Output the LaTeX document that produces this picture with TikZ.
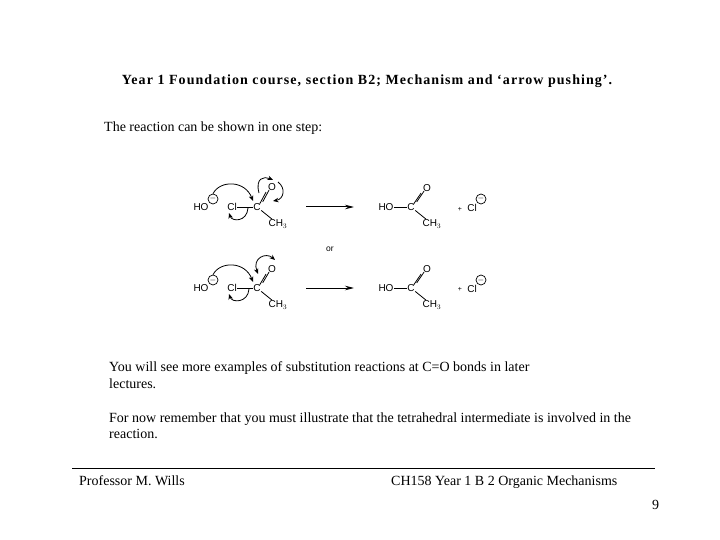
\documentclass[tikz,border=0pt]{standalone}
\usepackage{fontspec}
\setmainfont{Liberation Serif}
\newfontfamily\chemfont{Liberation Sans}
\newfontfamily\titlefont[LetterSpace=7.6]{Liberation Serif}
\usetikzlibrary{arrows.meta}
\tikzset{
  slidetext/.style={inner sep=0pt,font=\fontsize{14}{16}\selectfont,anchor=base west,align=left},
  atom/.style={inner sep=0.4pt,font=\chemfont\fontsize{10}{10}\selectfont},
  charge/.style={draw,circle,line width=0.7pt,inner sep=0pt,minimum size=10pt,font=\chemfont\fontsize{8}{8}\selectfont},
  bond/.style={line width=0.8pt},
  push/.style={line width=0.8pt,-{Stealth[length=5.5pt,width=4.5pt]}},
  react/.style={line width=1pt,-{Stealth[length=9pt,width=4.5pt]}}
}
\begin{document}
\begin{tikzpicture}[x=1pt,y=-1pt]
  \useasboundingbox (0,0) rectangle (720,540);
  \fill[white] (0,0) rectangle (720,540);
  % heading and text
  \node[inner sep=0pt,anchor=base,font=\titlefont\fontsize{14}{16}\selectfont\bfseries] (title) at (367,85) {Year 1 Foundation course, section B2; Mechanism and ‘arrow pushing’.};
  \node[slidetext] (intro) at (104,132) {The reaction can be shown in one step:};
  \node[slidetext] (more1) at (109,371) {You will see more examples of substitution reactions at C=O bonds in later};
  \node[slidetext] (more2) at (109,388) {lectures.};
  \node[slidetext] (now1) at (109,422) {For now remember that you must illustrate that the tetrahedral intermediate is involved in the};
  \node[slidetext] (now2) at (109,438) {reaction.};
  % top reactant
  \node[atom] (hoa) at (201,207) {HO};
  \node[charge] (nega) at (213,199) {$-$};
  \node[atom] (cla) at (232,207) {Cl};
  \node[atom] (ca) at (257,207) {C};
  \node[atom] (oa) at (272,187) {O};
  \node[atom] (mea) at (278,224) {CH$_3$};
  \draw[bond] (cla) -- (ca);
  \draw[bond] (ca) -- (mea);
  \draw[bond] ([xshift=-1.5pt,yshift=-1pt]ca.north east) -- ([xshift=-1.5pt,yshift=-1pt]oa.south west);
  \draw[bond] ([xshift=1.5pt,yshift=1pt]ca.north east) -- ([xshift=1.5pt,yshift=1pt]oa.south west);
  \draw[push] (nega.north) .. controls (220,180) and (245,180) .. (253,201);
  \draw[push] (248,208) .. controls (247,222) and (232,222) .. (229,213);
  \draw[push] (259,193) .. controls (255,178) and (264,176) .. (273,180);
  \draw[push] (278,182) .. controls (286,188) and (284,199) .. (273,201);
  % bottom reactant
  \node[atom] (hob) at (201,288) {HO};
  \node[charge] (negb) at (213,280) {$-$};
  \node[atom] (clb) at (232,288) {Cl};
  \node[atom] (cb) at (257,288) {C};
  \node[atom] (ob) at (272,269) {O};
  \node[atom] (meb) at (278,305) {CH$_3$};
  \draw[bond] (clb) -- (cb);
  \draw[bond] (cb) -- (meb);
  \draw[bond] ([xshift=-1.5pt,yshift=-1pt]cb.north east) -- ([xshift=-1.5pt,yshift=-1pt]ob.south west);
  \draw[bond] ([xshift=1.5pt,yshift=1pt]cb.north east) -- ([xshift=1.5pt,yshift=1pt]ob.south west);
  \draw[push] (negb.north) .. controls (220,261) and (245,261) .. (253,282);
  \draw[push] (249,289) .. controls (248,303) and (232,303) .. (229,294);
  \draw[line width=0.8pt,{Stealth[length=5.5pt,width=4.5pt]}-{Stealth[length=5.5pt,width=4.5pt]}] (258,274) .. controls (252,258) and (266,252) .. (275,260);
  % reaction arrows
  \coordinate (arrowa) at (306,207);
  \coordinate (heada) at (354,207);
  \coordinate (arrowb) at (306,288);
  \coordinate (headb) at (354,288);
  \draw[react] (arrowa) -- (heada);
  \draw[react] (arrowb) -- (headb);
  \node[atom,font=\chemfont\fontsize{8.5}{9}\selectfont] (orword) at (330,249.5) {or};
  % top product
  \node[atom] (hoc) at (386,207) {HO};
  \node[atom] (cc) at (411,207) {C};
  \node[atom] (oc) at (427,188) {O};
  \node[atom] (mec) at (432,224) {CH$_3$};
  \draw[bond] (hoc) -- (cc);
  \draw[bond] (cc) -- (mec);
  \draw[bond] ([xshift=-1.5pt,yshift=-1pt]cc.north east) -- ([xshift=-1.5pt,yshift=-1pt]oc.south west);
  \draw[bond] ([xshift=1.5pt,yshift=1pt]cc.north east) -- ([xshift=1.5pt,yshift=1pt]oc.south west);
  \node[atom,font=\chemfont\fontsize{7}{7}\selectfont] (plusa) at (460,209) {+};
  \node[atom] (cld) at (472,208) {Cl};
  \node[charge] (negd) at (481,199) {$-$};
  % bottom product
  \node[atom] (hoe) at (386,288) {HO};
  \node[atom] (ce) at (411,288) {C};
  \node[atom] (oe) at (427,269) {O};
  \node[atom] (mee) at (432,305) {CH$_3$};
  \draw[bond] (hoe) -- (ce);
  \draw[bond] (ce) -- (mee);
  \draw[bond] ([xshift=-1.5pt,yshift=-1pt]ce.north east) -- ([xshift=-1.5pt,yshift=-1pt]oe.south west);
  \draw[bond] ([xshift=1.5pt,yshift=1pt]ce.north east) -- ([xshift=1.5pt,yshift=1pt]oe.south west);
  \node[atom,font=\chemfont\fontsize{7}{7}\selectfont] (plusb) at (460,289) {+};
  \node[atom] (clf) at (472,289) {Cl};
  \node[charge] (negf) at (481,280) {$-$};
  % footer
  \coordinate (rulel) at (72,468);
  \coordinate (ruler) at (655,468);
  \draw[line width=0.6pt] (rulel) -- (ruler);
  \node[slidetext] (prof) at (79,485) {Professor M. Wills};
  \node[slidetext] (course) at (391,485) {CH158 Year 1 B 2 Organic Mechanisms};
  \node[slidetext] (pagenum) at (652,509) {9};
\end{tikzpicture}
\end{document}
